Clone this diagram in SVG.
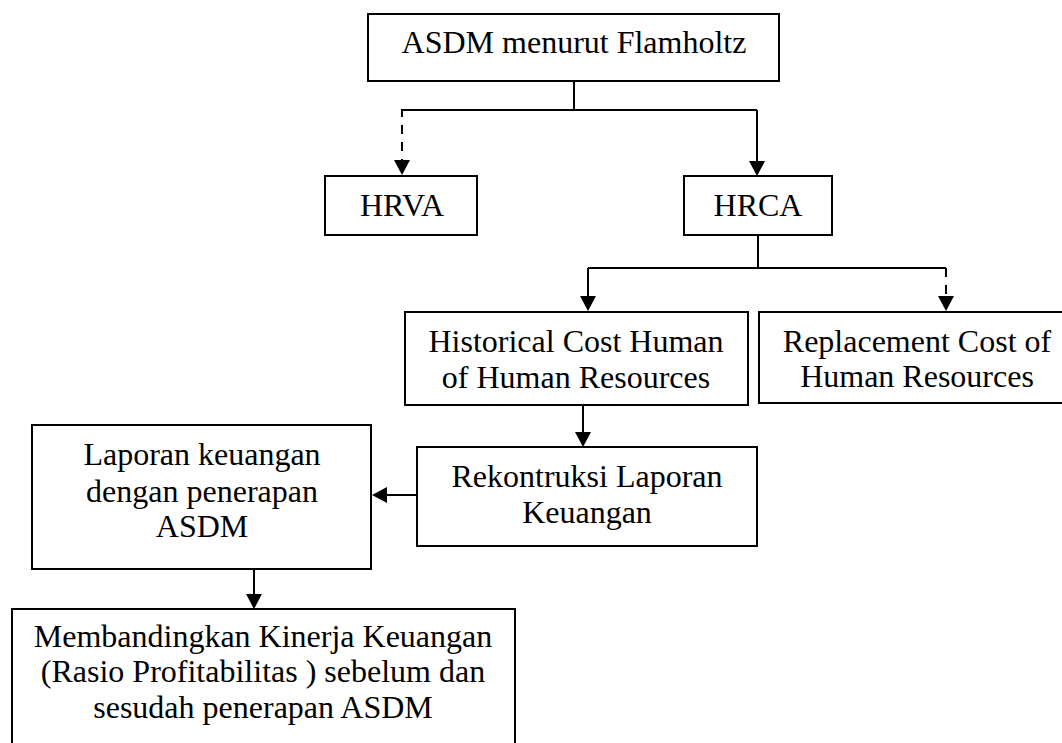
<svg xmlns="http://www.w3.org/2000/svg" width="1062" height="743" viewBox="0 0 1062 743">
<style>
  .box { fill: #ffffff; stroke: #000000; stroke-width: 2; }
  .lbl { font-family: "Liberation Serif", "Times New Roman", serif; font-size: 32px; fill: #000000; text-anchor: middle; }
  .conn { fill: none; stroke: #000000; stroke-width: 2; }
  .dash { stroke-dasharray: 9 8; }
</style>
<defs>
  <marker id="arrow" viewBox="0 0 15 16" markerWidth="15" markerHeight="16" refX="0" refY="8" orient="auto" markerUnits="userSpaceOnUse">
    <path d="M0,0 L15,8 L0,16 Z" fill="#000000"/>
  </marker>
</defs>
<rect width="1062" height="743" fill="#ffffff"/>
<g id="connectors">
  <path class="conn" d="M574,81 V110"/>
  <path class="conn" d="M401,110 H757"/>
  <path class="conn dash" d="M402,110 V160" stroke-dashoffset="2" marker-end="url(#arrow)"/>
  <path class="conn" d="M757,110 V161" marker-end="url(#arrow)"/>
  <path class="conn" d="M758,235 V268"/>
  <path class="conn" d="M588,268 H946"/>
  <path class="conn" d="M588,268 V296" marker-end="url(#arrow)"/>
  <path class="conn dash" d="M946,268 V296" marker-end="url(#arrow)"/>
  <path class="conn" d="M583,405 V432" marker-end="url(#arrow)"/>
  <path class="conn" d="M417,495 H387" marker-end="url(#arrow)"/>
  <path class="conn" d="M254,569 V594" marker-end="url(#arrow)"/>
</g>
<g id="node-asdm">
  <rect class="box" x="368" y="14" width="411" height="67"/>
  <text class="lbl" x="574" y="53">ASDM menurut Flamholtz</text>
</g>
<g id="node-hrva">
  <rect class="box" x="325" y="176" width="152" height="59"/>
  <text class="lbl" x="402" y="216">HRVA</text>
</g>
<g id="node-hrca">
  <rect class="box" x="684" y="176" width="148" height="59"/>
  <text class="lbl" x="758" y="216">HRCA</text>
</g>
<g id="node-historical">
  <rect class="box" x="405" y="312" width="343" height="93"/>
  <text class="lbl" x="576" y="352">Historical Cost Human</text>
  <text class="lbl" x="576" y="388">of Human Resources</text>
</g>
<g id="node-replacement">
  <rect class="box" x="759" y="312" width="318" height="91"/>
  <text class="lbl" x="917" y="352">Replacement Cost of</text>
  <text class="lbl" x="917" y="387">Human Resources</text>
</g>
<g id="node-rekontruksi">
  <rect class="box" x="417" y="447" width="340" height="99"/>
  <text class="lbl" x="587" y="487">Rekontruksi Laporan</text>
  <text class="lbl" x="587" y="523">Keuangan</text>
</g>
<g id="node-laporan">
  <rect class="box" x="32" y="425" width="339" height="144"/>
  <text class="lbl" x="202" y="465">Laporan keuangan</text>
  <text class="lbl" x="202" y="502">dengan penerapan</text>
  <text class="lbl" x="202" y="537">ASDM</text>
</g>
<g id="node-membandingkan">
  <rect class="box" x="12" y="609" width="503" height="150"/>
  <text class="lbl" x="263" y="647">Membandingkan Kinerja Keuangan</text>
  <text class="lbl" x="263" y="682">(Rasio Profitabilitas ) sebelum dan</text>
  <text class="lbl" x="263" y="718">sesudah penerapan ASDM</text>
</g>
</svg>
